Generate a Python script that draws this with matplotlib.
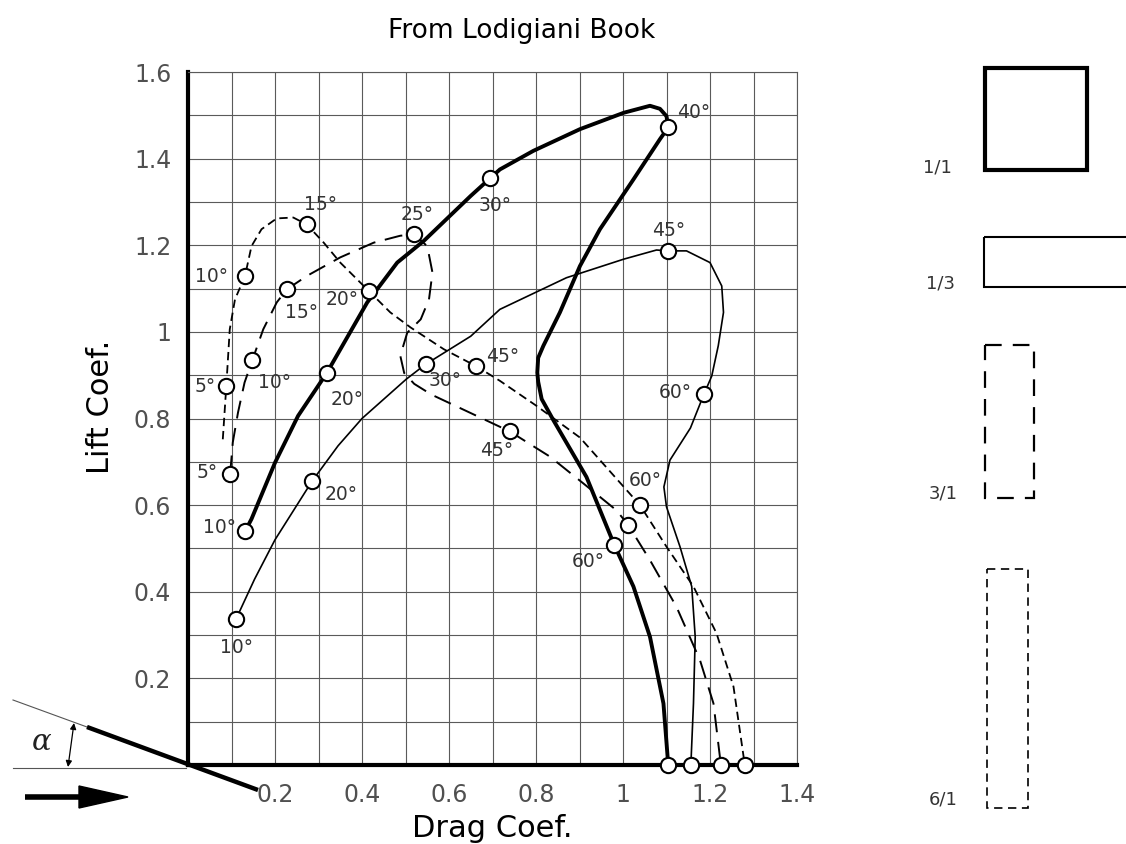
import numpy as np
import matplotlib
matplotlib.use("Agg")
import matplotlib.pyplot as plt
from matplotlib.patches import Rectangle, Polygon

plt.rcParams["font.family"] = "DejaVu Sans"
plt.rcParams["lines.scale_dashes"] = False
plt.rcParams["lines.solid_joinstyle"] = "round"
plt.rcParams["lines.dash_joinstyle"] = "round"

# ---- data (drag coef. / lift coef.) ----
# 1/1 section (thick solid)
sq_cd = [0.132, 0.146, 0.200, 0.253, 0.319, 0.412, 0.481, 0.542, 0.650, 0.695, 0.717,
         0.794, 0.901, 1.002, 1.062, 1.085, 1.100, 1.104, 1.085, 1.024, 0.947, 0.901,
         0.855, 0.817, 0.805, 0.803, 0.805, 0.813, 0.840, 0.916, 0.980, 1.024, 1.062,
         1.093, 1.104]
sq_cl = [0.541, 0.568, 0.698, 0.806, 0.905, 1.068, 1.160, 1.210, 1.314, 1.355, 1.375,
         1.418, 1.468, 1.506, 1.522, 1.515, 1.498, 1.472, 1.445, 1.352, 1.237, 1.152,
         1.045, 0.968, 0.940, 0.906, 0.885, 0.845, 0.796, 0.665, 0.508, 0.412, 0.296,
         0.142, 0.000]
sq_pts_cd = [0.132, 0.319, 0.695, 1.104, 0.980, 1.104]
sq_pts_cl = [0.541, 0.905, 1.355, 1.472, 0.508, 0.000]
sq_labels = ["10°", "20°", "30°", "40°", "60°"]
sq_lab_cd = [0.073, 0.365, 0.705, 1.162, 0.920]
sq_lab_cl = [0.549, 0.845, 1.292, 1.506, 0.469]

# 1/3 section (thin solid)
fl_cd = [0.110, 0.153, 0.200, 0.285, 0.345, 0.400, 0.502, 0.546, 0.650, 0.717, 0.870,
         1.002, 1.077, 1.104, 1.146, 1.200, 1.227, 1.231, 1.219, 1.204, 1.186, 1.155,
         1.108, 1.094, 1.100, 1.131, 1.158, 1.166, 1.162, 1.156]
fl_cl = [0.336, 0.429, 0.520, 0.655, 0.737, 0.800, 0.891, 0.925, 0.990, 1.052, 1.125,
         1.168, 1.189, 1.187, 1.187, 1.160, 1.106, 1.045, 0.968, 0.898, 0.856, 0.778,
         0.704, 0.642, 0.596, 0.504, 0.412, 0.296, 0.142, 0.000]
fl_pts_cd = [0.110, 0.285, 0.546, 1.104, 1.186, 1.156]
fl_pts_cl = [0.336, 0.655, 0.925, 1.187, 0.856, 0.000]
fl_labels = ["10°", "20°", "30°", "45°", "60°"]
fl_lab_cd = [0.111, 0.352, 0.590, 1.104, 1.120]
fl_lab_cl = [0.272, 0.625, 0.888, 1.233, 0.860]

# 3/1 section (long dashes)
tr_cd = [0.097, 0.103, 0.115, 0.130, 0.148, 0.173, 0.204, 0.227, 0.273, 0.350, 0.427,
         0.488, 0.519, 0.550, 0.562, 0.554, 0.535, 0.504, 0.488, 0.497, 0.520, 0.560,
         0.613, 0.740, 0.832, 0.909, 0.985, 1.012, 1.062, 1.123, 1.177, 1.208, 1.225]
tr_cl = [0.673, 0.745, 0.814, 0.883, 0.935, 1.006, 1.068, 1.098, 1.129, 1.172, 1.206,
         1.222, 1.225, 1.198, 1.137, 1.075, 1.029, 0.998, 0.945, 0.905, 0.880, 0.855,
         0.830, 0.770, 0.712, 0.650, 0.588, 0.554, 0.473, 0.365, 0.242, 0.142, 0.000]
tr_pts_cd = [0.097, 0.148, 0.227, 0.519, 0.740, 1.012, 1.225]
tr_pts_cl = [0.673, 0.935, 1.098, 1.225, 0.770, 0.554, 0.000]
tr_labels = ["5°", "10°", "15°", "25°", "45°"]
tr_lab_cd = [0.044, 0.200, 0.262, 0.527, 0.709]
tr_lab_cl = [0.675, 0.883, 1.045, 1.272, 0.725]

# 6/1 section (short dashes)
sx_cd = [0.080, 0.088, 0.096, 0.108, 0.131, 0.146, 0.169, 0.204, 0.242, 0.273, 0.312,
         0.350, 0.415, 0.465, 0.512, 0.588, 0.662, 0.717, 0.800, 0.901, 0.947, 1.039,
         1.100, 1.162, 1.215, 1.254, 1.280]
sx_cl = [0.752, 0.874, 1.006, 1.075, 1.129, 1.198, 1.237, 1.262, 1.264, 1.248, 1.206,
         1.160, 1.095, 1.045, 1.010, 0.960, 0.921, 0.887, 0.830, 0.756, 0.704, 0.600,
         0.504, 0.412, 0.304, 0.181, 0.000]
sx_pts_cd = [0.088, 0.131, 0.273, 0.415, 0.662, 1.039, 1.280]
sx_pts_cl = [0.874, 1.129, 1.248, 1.095, 0.921, 0.600, 0.000]
sx_labels = ["5°", "10°", "15°", "20°", "45°", "60°"]
sx_lab_cd = [0.040, 0.054, 0.304, 0.354, 0.723, 1.050]
sx_lab_cl = [0.875, 1.129, 1.295, 1.075, 0.943, 0.658]

x_ticks = [0.2, 0.4, 0.6, 0.8, 1.0, 1.2, 1.4]
x_tick_labels = ["0.2", "0.4", "0.6", "0.8", "1", "1.2", "1.4"]
y_ticks = [0.2, 0.4, 0.6, 0.8, 1.0, 1.2, 1.4, 1.6]
y_tick_labels = ["0.2", "0.4", "0.6", "0.8", "1", "1.2", "1.4", "1.6"]

W, H = 1126, 844
fig = plt.figure(figsize=(W / 100, H / 100), dpi=100)
fig.patch.set_facecolor("white")
ax = fig.add_axes([188 / W, 79 / H, 609 / W, 693 / H])
ax.set_xlim(0, 1.4)
ax.set_ylim(0, 1.6)

# grid every 0.1
ax.set_xticks(x_ticks)
ax.set_xticklabels(x_tick_labels)
ax.set_yticks(y_ticks)
ax.set_yticklabels(y_tick_labels)
ax.set_xticks(np.arange(0.1, 1.4, 0.2), minor=True)
ax.set_yticks(np.arange(0.1, 1.6, 0.2), minor=True)
ax.grid(True, which="both", color="#5a5a5a", linewidth=0.8)
ax.set_axisbelow(True)
ax.tick_params(which="both", length=0)
ax.tick_params(axis="x", pad=13, labelsize=17, labelcolor="#505050")
ax.tick_params(axis="y", pad=12, labelsize=17, labelcolor="#505050")

for side in ["left", "bottom"]:
    ax.spines[side].set_linewidth(3)
    ax.spines[side].set_color("black")
for side in ["top", "right"]:
    ax.spines[side].set_linewidth(0.8)
    ax.spines[side].set_color("#5a5a5a")

line_kw = dict(color="black", zorder=3, clip_on=False)
ax.plot(sq_cd, sq_cl, lw=2.8, **line_kw)
ax.plot(fl_cd, fl_cl, lw=1.2, **line_kw)
ax.plot(tr_cd, tr_cl, lw=1.4, dashes=(13, 7), **line_kw)
ax.plot(sx_cd, sx_cl, lw=1.3, dashes=(6, 3.5), **line_kw)

mk_kw = dict(ls="none", marker="o", ms=11, mfc="white", mec="black", mew=1.5,
             zorder=5, clip_on=False)
for px, py in [(sq_pts_cd, sq_pts_cl), (fl_pts_cd, fl_pts_cl),
               (tr_pts_cd, tr_pts_cl), (sx_pts_cd, sx_pts_cl)]:
    ax.plot(px, py, **mk_kw)

for labs, lx, ly in [(sq_labels, sq_lab_cd, sq_lab_cl), (fl_labels, fl_lab_cd, fl_lab_cl),
                     (tr_labels, tr_lab_cd, tr_lab_cl), (sx_labels, sx_lab_cd, sx_lab_cl)]:
    for s, x, y in zip(labs, lx, ly):
        ax.text(x, y, s, ha="center", va="center", fontsize=13.5, color="#333333",
                zorder=6)

ax.set_xlabel("Drag Coef.", fontsize=22, va="center")
ax.xaxis.set_label_coords(0.5, -0.091)
ax.set_ylabel("Lift Coef.", fontsize=22, va="center")
ax.yaxis.set_label_coords(-0.143, 0.517)

fig.text(522 / W, 1 - 31 / H, "From Lodigiani Book", ha="center", va="center",
         fontsize=19)

# overlay in pixel space: angle-of-attack sketch and section legend
ov = fig.add_axes([0, 0, 1, 1], zorder=3)
ov.set_xlim(0, W)
ov.set_ylim(H, 0)
ov.axis("off")

ov.plot([13, 87], [700, 727], color="#555555", lw=0.8)
ov.plot([87, 258], [727, 790], color="black", lw=3.2, solid_capstyle="butt")
ov.plot([13, 186], [768, 768], color="#555555", lw=0.8)
ov.annotate("", xy=(74, 723), xytext=(68, 767),
            arrowprops=dict(arrowstyle="<|-|>", color="black", lw=0.9,
                            mutation_scale=9, shrinkA=0, shrinkB=0))
ov.text(42, 742, "α", fontsize=21, style="italic", ha="center", va="center",
        family="DejaVu Serif", color="#222222")
ov.plot([25, 82], [797, 797], color="black", lw=4, solid_capstyle="butt")
ov.add_patch(Polygon([[79, 786], [128, 797], [79, 808]], closed=True,
                     facecolor="black", edgecolor="black"))

ov.add_patch(Rectangle((985, 68), 102, 102, fill=False, lw=3, ec="black"))
ov.add_patch(Rectangle((984, 237), 200, 50, fill=False, lw=1.5, ec="black"))
ov.add_patch(Rectangle((985, 345), 49, 153, fill=False, lw=1.6, ec="black",
                       ls=(0, (12, 8))))
ov.add_patch(Rectangle((987, 569), 41, 239, fill=False, lw=1.2, ec="black",
                       ls=(0, (6, 4))))
for s, x, y in [("1/1", 937, 167), ("1/3", 940, 284), ("3/1", 943, 493), ("6/1", 943, 800)]:
    ov.text(x, y, s, fontsize=13, ha="center", va="center", color="#333333")

fig.savefig("out.png", dpi=100)
